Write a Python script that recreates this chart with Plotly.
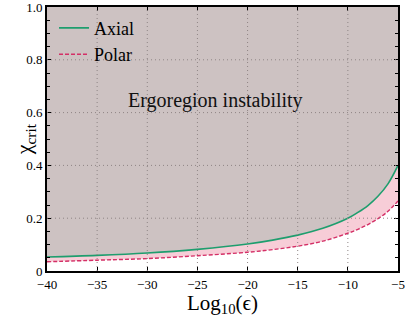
import plotly.graph_objects as go

log_eps = [-40, -35, -30, -25, -20, -17.5, -15, -12.5, -10, -9, -8, -7, -6, -5]
axial = [0.053, 0.059, 0.068, 0.082, 0.102, 0.117, 0.136, 0.162, 0.200, 0.222, 0.248, 0.283, 0.330, 0.400]
polar = [0.035, 0.041, 0.047, 0.058, 0.071, 0.081, 0.094, 0.113, 0.143, 0.158, 0.176, 0.198, 0.226, 0.265]
top = [1.0] * len(log_eps)

x_ticks = [-40, -35, -30, -25, -20, -15, -10, -5]
y_ticks = [0, 0.2, 0.4, 0.6, 0.8, 1.0]
y_ticktext = ["0", "0.2", "0.4", "0.6", "0.8", "1.0"]

GRAY = "#cdc2c2"
PINK = "#f7cdd7"
GREEN = "#1e9e6e"
CRIMSON = "#d42f66"
FONT = "Liberation Serif, Times New Roman, DejaVu Serif, serif"

fig = go.Figure()
fig.add_trace(go.Scatter(x=log_eps, y=polar, mode="lines", line=dict(width=0, shape="spline"),
                         showlegend=False, hoverinfo="skip"))
fig.add_trace(go.Scatter(x=log_eps, y=axial, mode="lines", line=dict(width=0, shape="spline"),
                         fill="tonexty", fillcolor=PINK, showlegend=False, hoverinfo="skip"))
fig.add_trace(go.Scatter(x=log_eps, y=top, mode="lines", line=dict(width=0),
                         fill="tonexty", fillcolor=GRAY, showlegend=False, hoverinfo="skip"))
fig.add_trace(go.Scatter(x=log_eps, y=axial, mode="lines", name="Axial",
                         line=dict(color=GREEN, width=1.6, shape="spline")))
fig.add_trace(go.Scatter(x=log_eps, y=polar, mode="lines", name="Polar",
                         line=dict(color=CRIMSON, width=1.4, dash="4px,2px", shape="spline")))

GRID = dict(color="#8f8585", width=1, dash="1px,3px")
shapes = []
for xv in x_ticks[1:-1]:
    shapes.append(dict(type="line", xref="x", yref="y", x0=xv, x1=xv, y0=0, y1=1,
                       line=GRID, layer="above"))
for yv in y_ticks[1:-1]:
    shapes.append(dict(type="line", xref="x", yref="y", x0=-40, x1=-5, y0=yv, y1=yv,
                       line=GRID, layer="above"))

fig.add_annotation(x=-23.2, y=0.645, text="Ergoregion instability", showarrow=False,
                   font=dict(family=FONT, size=20, color="#111"))
fig.add_annotation(xref="paper", yref="paper", x=-0.062, y=0.5, xanchor="center", yanchor="middle",
                   text="χ<sub>crit</sub>", textangle=-90, showarrow=False,
                   font=dict(family=FONT, size=22, color="black"))

fig.update_layout(
    width=407, height=317,
    margin=dict(l=47, r=9, t=7, b=46, autoexpand=False),
    paper_bgcolor="white", plot_bgcolor="white",
    font=dict(family=FONT, color="black", size=13),
    shapes=shapes,
    legend=dict(x=0.02, y=0.99, xanchor="left", yanchor="top", bgcolor="rgba(0,0,0,0)",
                font=dict(family=FONT, size=18), tracegroupgap=0, traceorder="normal"),
    xaxis=dict(range=[-40, -5], tickvals=x_ticks, ticks="inside", ticklen=4, tickcolor="black",
               showline=True, linecolor="black", linewidth=2, mirror="ticks", showgrid=False,
               zeroline=False, automargin=False, ticklabeloverflow="allow",
               title=dict(text="Log<sub>10</sub>(ϵ)", font=dict(family=FONT, size=21), standoff=3),
               tickfont=dict(family=FONT, size=13)),
    yaxis=dict(range=[0, 1], tickvals=y_ticks, ticktext=y_ticktext, ticks="inside", ticklen=4,
               tickcolor="black", showline=True, linecolor="black", linewidth=2, mirror="ticks",
               showgrid=False, zeroline=False, automargin=False, ticklabeloverflow="allow",
               minor=dict(dtick=0.05, ticks="inside", ticklen=3, tickcolor="black", showgrid=False),
               tickfont=dict(family=FONT, size=13)),
)

fig.write_html("out.html", config={"displayModeBar": False},
               post_script="document.body.style.margin='0px';document.body.style.padding='0px';")
